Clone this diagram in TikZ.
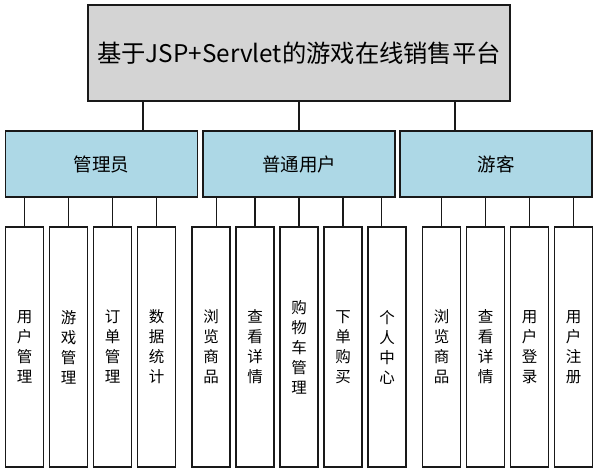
\documentclass[tikz,border=0pt]{standalone}
\usepackage{fontspec}
\setmainfont{Noto Sans CJK SC}
\begin{document}
\begin{tikzpicture}[x=1pt, y=-1pt,
  titlebox/.style={draw=black!90, line width=1.3pt, fill=black!17, minimum width=422pt, minimum height=96pt, inner sep=0pt, font=\fontsize{24.3}{28}\selectfont},
  rolebox/.style={draw=black!90, line width=1.3pt, fill={rgb,255:red,173;green,216;blue,230}, minimum width=192pt, minimum height=66pt, inner sep=0pt, font=\fontsize{18.5}{22}\selectfont},
  leafbox/.style={draw=black!90, line width=1.3pt, minimum width=38pt, minimum height=240pt, inner sep=0pt, align=center, font=\fontsize{15.5}{20}\selectfont},
  link/.style={draw=black!90, line width=1.3pt}]

\useasboundingbox (0,0) rectangle (598,473);

% Top and role nodes
\node (top) [titlebox] at (299, 53) {基于JSP+Servlet的游戏在线销售平台};
\node (admin) [rolebox] at (101.5, 164) {管理员};
\node (user) [rolebox] at (299, 164) {普通用户};
\node (guest) [rolebox] at (496, 164) {游客};
% Leaf nodes
\node (a1) [leafbox] at (24.5, 347) {用\\户\\管\\理};
\node (a2) [leafbox] at (68.5, 347) {游\\戏\\管\\理};
\node (a3) [leafbox] at (112.5, 347) {订\\单\\管\\理};
\node (a4) [leafbox] at (156.5, 347) {数\\据\\统\\计};
\node (u1) [leafbox] at (211, 347) {浏\\览\\商\\品};
\node (u2) [leafbox] at (255, 347) {查\\看\\详\\情};
\node (u3) [leafbox] at (299, 347) {购\\物\\车\\管\\理};
\node (u4) [leafbox] at (343, 347) {下\\单\\购\\买};
\node (u5) [leafbox] at (387, 347) {个\\人\\中\\心};
\node (g1) [leafbox] at (441.5, 347) {浏\\览\\商\\品};
\node (g2) [leafbox] at (485.5, 347) {查\\看\\详\\情};
\node (g3) [leafbox] at (529.5, 347) {用\\户\\登\\录};
\node (g4) [leafbox] at (573.5, 347) {用\\户\\注\\册};
% Edges
\draw[link] (top.south -| 143,0) -- (admin.north -| 143,0);
\draw[link] (top.south -| user.north) -- (user.north);
\draw[link] (top.south -| 455,0) -- (guest.north -| 455,0);
\foreach \n in {a1,a2,a3,a4}
  \draw[link] (\n.north) -- (\n.north |- admin.south);
\draw[link] ([xshift=5.7]u1.north) -- ([xshift=5.7]u1.north |- user.south);
\foreach \n in {u2,u3,u4}
  \draw[link] (\n.north) -- (\n.north |- user.south);
\draw[link] ([xshift=-5.7]u5.north) -- ([xshift=-5.7]u5.north |- user.south);
\foreach \n in {g1,g2,g3,g4}
  \draw[link] (\n.north) -- (\n.north |- guest.south);

\end{tikzpicture}
\end{document}
